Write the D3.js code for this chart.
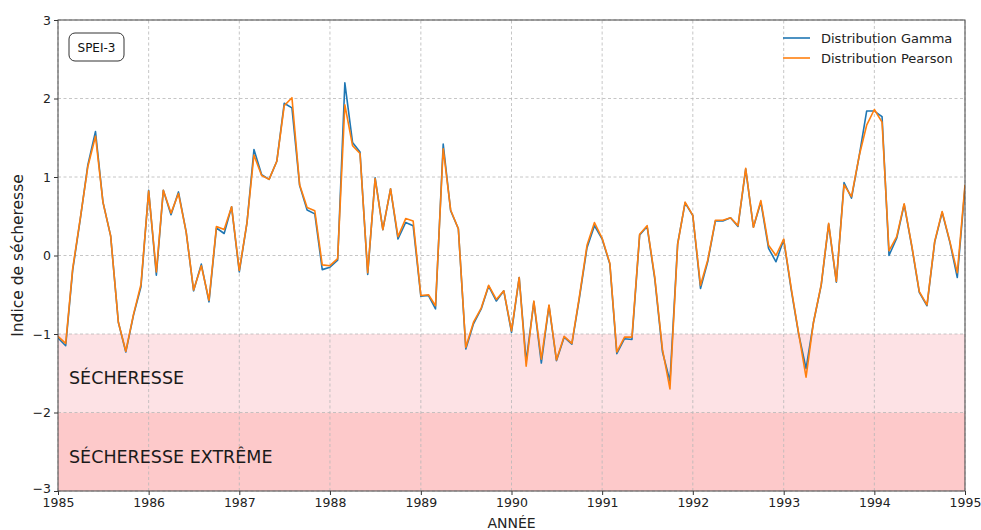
<!DOCTYPE html>
<html>
<head>
<meta charset="utf-8">
<script src="https://cdn.jsdelivr.net/npm/d3@7"></script>
<style>
  html, body { margin: 0; padding: 0; background: #fff; }
  svg { display: block; font-family: "DejaVu Sans", sans-serif; }
</style>
</head>
<body>
<svg id="chart" width="981" height="530"></svg>
<script>
// Monthly SPEI-3 values, January 1985 to January 1995
const gammaValues = [
  -1.05, -1.15, -0.19, 0.47, 1.15, 1.58, 0.68, 0.25, -0.85, -1.23, -0.76, -0.40,
  0.83, -0.25, 0.83, 0.52, 0.81, 0.30, -0.45, -0.11, -0.59, 0.35, 0.28, 0.62,
  -0.21, 0.42, 1.35, 1.03, 0.97, 1.20, 1.94, 1.88, 0.89, 0.58, 0.53, -0.18,
  -0.15, -0.06, 2.20, 1.44, 1.32, -0.24, 0.99, 0.33, 0.85, 0.21, 0.42, 0.38,
  -0.52, -0.51, -0.68, 1.42, 0.57, 0.34, -1.19, -0.87, -0.68, -0.39, -0.58, -0.45,
  -0.98, -0.28, -1.35, -0.59, -1.37, -0.64, -1.34, -1.04, -1.13, -0.55, 0.10, 0.38,
  0.21, -0.11, -1.25, -1.06, -1.07, 0.26, 0.37, -0.30, -1.23, -1.60, 0.15, 0.67,
  0.51, -0.42, -0.08, 0.44, 0.44, 0.48, 0.37, 1.10, 0.36, 0.68, 0.09, -0.08,
  0.20, -0.45, -0.98, -1.44, -0.85, -0.38, 0.40, -0.34, 0.93, 0.73, 1.27, 1.84,
  1.84, 1.77, 0.00, 0.22, 0.65, 0.11, -0.47, -0.64, 0.17, 0.55, 0.17, -0.28,
  0.87
];
const pearsonValues = [
  -1.03, -1.12, -0.17, 0.48, 1.13, 1.52, 0.68, 0.25, -0.85, -1.22, -0.75, -0.37,
  0.82, -0.21, 0.83, 0.54, 0.79, 0.30, -0.44, -0.13, -0.57, 0.37, 0.33, 0.62,
  -0.19, 0.42, 1.28, 1.02, 0.97, 1.20, 1.91, 2.01, 0.90, 0.61, 0.57, -0.12,
  -0.13, -0.04, 1.92, 1.40, 1.30, -0.22, 0.98, 0.33, 0.85, 0.24, 0.47, 0.44,
  -0.51, -0.50, -0.64, 1.36, 0.58, 0.34, -1.17, -0.85, -0.67, -0.38, -0.56, -0.45,
  -0.96, -0.28, -1.41, -0.58, -1.32, -0.63, -1.33, -1.03, -1.12, -0.53, 0.13, 0.42,
  0.22, -0.10, -1.23, -1.04, -1.04, 0.27, 0.38, -0.28, -1.20, -1.70, 0.14, 0.68,
  0.51, -0.38, -0.06, 0.45, 0.45, 0.48, 0.38, 1.11, 0.36, 0.70, 0.13, 0.00,
  0.21, -0.43, -0.97, -1.55, -0.85, -0.37, 0.41, -0.33, 0.90, 0.75, 1.27, 1.66,
  1.86, 1.70, 0.06, 0.24, 0.66, 0.12, -0.46, -0.63, 0.18, 0.56, 0.18, -0.22,
  0.90
];
const yearTicks = [1985, 1986, 1987, 1988, 1989, 1990, 1991, 1992, 1993, 1994, 1995];
const yTicks = [-3, -2, -1, 0, 1, 2, 3];
const bands = [
  { label: "SÉCHERESSE", from: -1, to: -2, fill: "#fde2e5" },
  { label: "SÉCHERESSE EXTRÊME", from: -2, to: -3, fill: "#fdc9ca" }
];
const seriesNames = ["Distribution Gamma", "Distribution Pearson"];
const seriesColors = ["#1f77b4", "#ff7f0e"];

const months = d3.timeMonth.range(new Date(1985, 0, 1), new Date(1995, 0, 2));

const margin = { left: 58, right: 16, top: 20, bottom: 39 };
const width = 981, height = 530;
const svg = d3.select("#chart");

const x = d3.scaleTime()
  .domain([new Date(1985, 0, 1), new Date(1995, 0, 1)])
  .range([margin.left, width - margin.right]);
const y = d3.scaleLinear()
  .domain([-3, 3])
  .range([height - margin.bottom, margin.top]);

const plotW = x.range()[1] - x.range()[0];
const plotH = y.range()[0] - y.range()[1];

// Drought bands
svg.append("g").selectAll("rect").data(bands).join("rect")
  .attr("x", margin.left)
  .attr("width", plotW)
  .attr("y", d => y(d.from))
  .attr("height", d => y(d.to) - y(d.from))
  .attr("fill", d => d.fill);

// Grid lines
const grid = svg.append("g")
  .attr("stroke", "#b8b8b8")
  .attr("stroke-width", 0.8)
  .attr("stroke-dasharray", "3,2.5");
grid.selectAll(".gx").data(yearTicks).join("line")
  .attr("x1", d => x(new Date(d, 0, 1))).attr("x2", d => x(new Date(d, 0, 1)))
  .attr("y1", y(-3)).attr("y2", y(3));
grid.selectAll(".gy").data(yTicks).join("line")
  .attr("x1", margin.left).attr("x2", margin.left + plotW)
  .attr("y1", d => y(d)).attr("y2", d => y(d));

// Band labels
svg.append("g").selectAll("text").data(bands).join("text")
  .attr("x", margin.left + 11)
  .attr("y", d => y((d.from + d.to) / 2) + 11)
  .attr("font-size", 17.5)
  .attr("fill", "#1a1a1a")
  .text(d => d.label);

// Series lines
const line = d3.line()
  .x((d, i) => x(months[i]))
  .y(d => y(d));
svg.append("clipPath").attr("id", "plotclip")
  .append("rect").attr("x", margin.left).attr("y", margin.top)
  .attr("width", plotW).attr("height", plotH);
const lines = svg.append("g").attr("clip-path", "url(#plotclip)");
[gammaValues, pearsonValues].forEach((vals, k) => {
  lines.append("path")
    .datum(vals)
    .attr("fill", "none")
    .attr("stroke", seriesColors[k])
    .attr("stroke-width", 1.6)
    .attr("stroke-linejoin", "round")
    .attr("d", line);
});

// Axes
const xAxis = d3.axisBottom(x)
  .tickValues(yearTicks.map(yr => new Date(yr, 0, 1)))
  .tickFormat(d3.timeFormat("%Y"))
  .tickSizeInner(4).tickSizeOuter(0).tickPadding(3);
const yAxis = d3.axisLeft(y)
  .tickValues(yTicks)
  .tickFormat(d => d < 0 ? "\u2212" + Math.abs(d) : String(d))
  .tickSizeInner(4).tickSizeOuter(0).tickPadding(3);

const gx = svg.append("g")
  .attr("transform", `translate(0,${y(-3)})`)
  .call(xAxis);
const gy = svg.append("g")
  .attr("transform", `translate(${margin.left},0)`)
  .call(yAxis);
[gx, gy].forEach(g => {
  g.select(".domain").remove();
  g.selectAll(".tick line").attr("stroke", "#333");
  g.selectAll(".tick text").attr("fill", "#222").attr("font-size", 12.5)
    .attr("font-family", "DejaVu Sans, sans-serif");
});
// keep the lowest y label clear of the first year label
gy.selectAll(".tick").filter(d => d === -3).select("text").attr("dy", "0.1em");

// Frame
svg.append("rect")
  .attr("x", margin.left).attr("y", margin.top)
  .attr("width", plotW).attr("height", plotH)
  .attr("fill", "none").attr("stroke", "#444").attr("stroke-width", 1);

// Axis titles
svg.append("text")
  .attr("x", margin.left + plotW / 2)
  .attr("y", 528)
  .attr("text-anchor", "middle")
  .attr("font-size", 14)
  .attr("fill", "#222")
  .text("ANNÉE");
svg.append("text")
  .attr("transform", `translate(23,${margin.top + plotH / 2}) rotate(-90)`)
  .attr("text-anchor", "middle")
  .attr("font-size", 15.5)
  .attr("fill", "#222")
  .text("Indice de sécheresse");

// SPEI-3 tag
const tag = svg.append("g").attr("transform", `translate(${margin.left + 11},33)`);
tag.append("rect")
  .attr("width", 55).attr("height", 28).attr("rx", 6)
  .attr("fill", "#fff").attr("stroke", "#333").attr("stroke-width", 1);
tag.append("text")
  .attr("x", 27.5).attr("y", 18.5)
  .attr("text-anchor", "middle")
  .attr("font-size", 12)
  .attr("fill", "#111")
  .text("SPEI-3");

// Legend
const legend = svg.append("g").attr("transform", "translate(783,38)");
seriesNames.forEach((name, k) => {
  const row = legend.append("g").attr("transform", `translate(0,${k * 20})`);
  row.append("line").attr("x1", 0).attr("x2", 27).attr("y1", 0).attr("y2", 0)
    .attr("stroke", seriesColors[k]).attr("stroke-width", 1.6);
  row.append("text").attr("x", 38).attr("y", 4.5)
    .attr("font-size", 13).attr("fill", "#222").text(name);
});
</script>
</body>
</html>
